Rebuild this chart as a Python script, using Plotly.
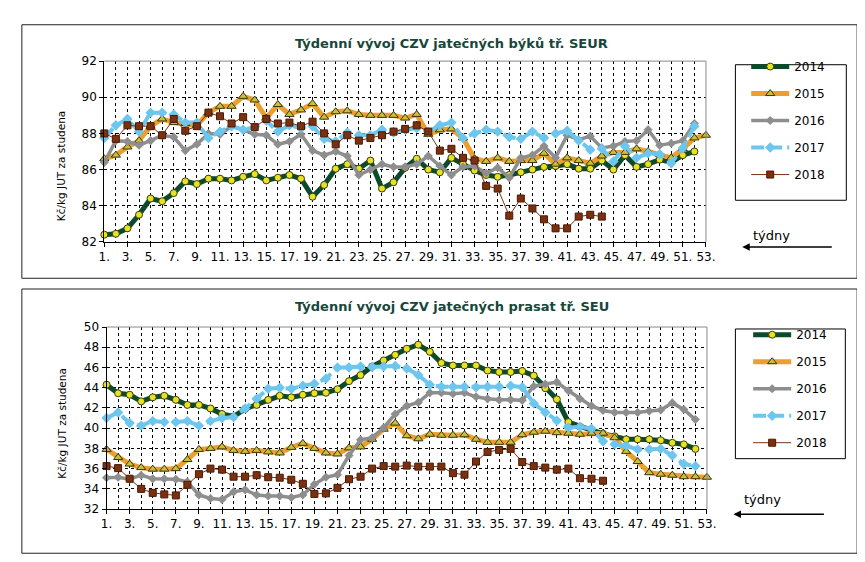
import plotly.graph_objects as go

W, H = 865, 562

weeks = list(range(1, 54))
tick_weeks = list(range(1, 54, 2))
tick_text = [f"{w}." for w in tick_weeks]
years = ["2014", "2015", "2016", "2017", "2018"]

title_bulls = "Týdenní vývoj CZV jatečných býků tř. SEUR"
title_pigs = "Týdenní vývoj CZV jatečných prasat tř. SEU"
y_title = "Kč/kg JUT za studena"
x_note = "týdny"

# ---- bulls (top chart) ----
bulls_2014 = [82.4, 82.45, 82.75, 83.5, 84.4, 84.25, 84.7, 85.35, 85.2, 85.5,
              85.5, 85.4, 85.6, 85.75, 85.4, 85.55, 85.7, 85.5, 84.5, 85.15,
              86.05, 86.3, 86.05, 86.5, 84.95, 85.3, 86.1, 86.6, 86.0, 85.85,
              86.65, 86.3, 85.95, 85.7, 85.6, 85.7, 85.85, 86.0, 86.15, 86.2,
              86.3, 86.05, 86.05, 86.5, 86.0, 86.8, 86.15, 86.3, 86.55, 86.4,
              86.8, 87.0]
bulls_2015 = [86.6, 86.8, 87.25, 87.6, 88.4, 88.8, 88.6, 88.55, 88.45, 89.15,
              89.5, 89.5, 90.05, 89.85, 88.85, 89.6, 89.05, 89.3, 89.65, 88.9,
              89.2, 89.25, 89.05, 89.0, 89.0, 89.0, 88.85, 89.05, 87.95, 88.2,
              88.25, 87.75, 86.6, 86.45, 86.65, 86.45, 86.5, 86.5, 86.9, 86.3,
              86.65, 86.5, 86.35, 86.75, 86.95, 86.95, 87.15, 87.0, 86.85, 86.65,
              87.15, 87.75, 87.9]
bulls_2016 = [86.4, 87.6, 87.55, 87.35, 87.6, 87.9, 87.8, 87.05, 87.4, 88.0,
              87.95, 88.4, 88.2, 87.95, 87.9, 87.4, 87.55, 87.95, 87.05, 86.8,
              87.0, 86.75, 85.7, 86.0, 86.3, 86.15, 86.15, 86.3, 86.75, 86.2,
              85.7, 86.15, 86.2, 85.8, 86.1, 85.55, 86.65, 86.8, 87.3, 86.65,
              87.9, 87.65, 87.85, 87.2, 87.3, 87.55, 87.6, 88.2, 87.35, 87.45,
              87.6, 88.55]
bulls_2017 = [87.75, 88.45, 88.8, 88.1, 89.15, 89.15, 89.05, 88.6, 88.6, 87.75,
              88.1, 88.4, 88.2, 88.35, 88.7, 88.1, 88.45, 88.3, 88.4, 87.7,
              87.55, 88.05, 87.9, 87.9, 88.2, 88.05, 88.2, 88.3, 88.1, 88.45,
              88.6, 87.75, 88.0, 88.2, 88.1, 87.8, 87.7, 88.1, 87.75, 88.0,
              88.15, 87.6, 87.1, 87.15, 86.45, 87.3, 86.65, 86.9, 86.85, 86.35,
              87.2, 88.4]
bulls_2018 = [88.0, 87.7, 88.45, 88.4, 88.4, 87.9, 88.8, 88.15, 88.4, 89.15,
              88.95, 88.55, 88.9, 88.35, 88.8, 88.55, 88.6, 88.4, 88.65, 88.0,
              87.4, 87.9, 87.6, 87.75, 87.9, 88.1, 88.25, 88.45, 88.1, 87.05,
              87.15, 86.65, 86.5, 85.1, 84.95, 83.45, 84.4, 83.85, 83.25, 82.75,
              82.75, 83.4, 83.5, 83.4]

# ---- pigs (bottom chart) ----
pigs_2014 = [44.3, 43.45, 43.3, 42.65, 43.05, 43.2, 42.8, 42.3, 42.3, 41.95,
             41.4, 41.15, 41.9, 42.3, 42.8, 43.2, 43.05, 43.3, 43.45, 43.5,
             43.85, 44.65, 45.25, 46.1, 46.7, 47.25, 47.85, 48.25, 47.55, 46.45,
             46.2, 46.2, 46.2, 45.7, 45.55, 45.55, 45.65, 45.2, 43.95, 42.85,
             40.6, 40.15, 39.8, 39.45, 39.2, 38.9, 38.9, 38.9, 38.8, 38.55,
             38.4, 37.95]
pigs_2015 = [37.9, 37.1, 36.45, 36.1, 35.95, 35.95, 36.0, 36.9, 37.9, 38.0,
             38.15, 37.8, 37.7, 37.8, 37.65, 37.55, 38.1, 38.5, 38.0, 37.55,
             37.45, 38.05, 38.15, 38.9, 39.9, 40.5, 39.25, 38.95, 39.4, 39.3,
             39.3, 39.35, 38.9, 38.6, 38.6, 38.6, 39.35, 39.6, 39.7, 39.55,
             39.5, 39.4, 39.5, 39.5, 39.05, 37.7, 36.7, 35.6, 35.45, 35.35,
             35.2, 35.2, 35.15]
pigs_2016 = [35.1, 35.15, 34.95, 35.35, 35.0, 35.0, 34.95, 34.7, 33.4, 33.05,
             32.95, 33.7, 33.9, 33.4, 33.3, 33.3, 33.15, 33.4, 34.45, 35.15,
             35.4, 37.3, 38.85, 39.05, 40.05, 41.4, 42.2, 42.55, 43.5, 43.5,
             43.4, 43.5, 43.1, 42.9, 42.8, 42.8, 42.75, 44.15, 44.35, 44.55,
             43.7, 42.9, 42.2, 41.75, 41.55, 41.55, 41.55, 41.7, 41.8, 42.5,
             41.85, 40.85]
pigs_2017 = [41.0, 41.55, 40.5, 40.25, 40.7, 40.6, 40.6, 40.7, 40.25, 40.7,
             41.0, 41.1, 41.95, 42.9, 43.9, 44.0, 43.9, 44.2, 44.4, 44.9,
             46.0, 46.0, 46.1, 46.05, 46.1, 46.15, 45.9, 45.25, 44.3, 44.1,
             44.1, 44.1, 44.05, 44.1, 44.1, 44.2, 44.05, 42.45, 41.55, 40.75,
             40.05, 40.15, 39.95, 38.7, 38.4, 38.25, 37.9, 37.9, 37.95, 37.3,
             36.45, 36.25]
pigs_2018 = [36.25, 36.05, 35.0, 34.0, 33.6, 33.45, 33.35, 34.4, 35.45, 36.0,
             35.9, 35.2, 35.2, 35.35, 35.15, 35.1, 34.9, 34.5, 33.5, 33.55,
             34.1, 34.95, 35.2, 36.0, 36.25, 36.2, 36.3, 36.2, 36.2, 36.2,
             35.55, 35.4, 36.7, 37.65, 37.85, 37.95, 36.65, 36.25, 36.1, 35.9,
             36.0, 35.05, 35.0, 34.8]

bulls = [bulls_2014, bulls_2015, bulls_2016, bulls_2017, bulls_2018]
pigs = [pigs_2014, pigs_2015, pigs_2016, pigs_2017, pigs_2018]

styles = [
    dict(line=dict(color="#0B4A2B", width=5),
         marker=dict(symbol="circle", size=7, color="#E6E322",
                     line=dict(color="#3C3C10", width=1))),
    dict(line=dict(color="#EA9F2E", width=5),
         marker=dict(symbol="triangle-up", size=8, color="#C9C03A",
                     line=dict(color="#3C3610", width=1))),
    dict(line=dict(color="#8E8E8E", width=3.5),
         marker=dict(symbol="diamond", size=7, color="#8E8E8E",
                     line=dict(color="#8E8E8E", width=0))),
    dict(line=dict(color="#6CC6EE", width=4, dash="13px,5px"),
         marker=dict(symbol="diamond", size=8, color="#6CC6EE",
                     line=dict(color="#6CC6EE", width=0))),
    dict(line=dict(color="#7A3213", width=1),
         marker=dict(symbol="square", size=7, color="#7B3010",
                     line=dict(color="#4A1A05", width=1))),
]

FONT = "DejaVu Sans"


def px_x(p):
    return p / W


def px_y(p):
    return 1 - p / H


fig = go.Figure()

for panel, data, xa, ya, lg in [("b", bulls, "x", "y", "legend"),
                                 ("p", pigs, "x2", "y2", "legend2")]:
    for yr, vals, st in zip(years, data, styles):
        fig.add_trace(go.Scatter(
            x=weeks[:len(vals)], y=vals, name=yr, mode="lines+markers",
            line=st["line"], marker=st["marker"], xaxis=xa, yaxis=ya,
            legend=lg, legendgroup=panel + yr, cliponaxis=False,
            hoverinfo="skip"))

grid = dict(showgrid=True, gridcolor="#000000", gridwidth=1, griddash="3px,3px")


def xax(domain, anchor):
    return dict(domain=domain, anchor=anchor, range=[1, 53], tickmode="array",
                tickvals=tick_weeks, ticktext=tick_text, tickangle=0,
                showline=True, linecolor="#000000", linewidth=1,
                ticks="outside", ticklen=4, tickcolor="#000000",
                tickfont=dict(family=FONT, size=12, color="#000000"),
                minor=dict(dtick=1, tick0=1, showgrid=True, gridcolor="#000000",
                           gridwidth=1, griddash="3px,3px", ticks=""),
                zeroline=False, fixedrange=True, **grid)


def yax(domain, anchor, rng):
    return dict(domain=domain, anchor=anchor, range=rng, dtick=2, tick0=rng[0],
                showline=True, linecolor="#000000", linewidth=1,
                ticks="outside", ticklen=4, tickcolor="#000000",
                tickfont=dict(family=FONT, size=12, color="#000000"),
                zeroline=False, fixedrange=True, **grid)


top_x = [92, 705]
top_y = [47.3, 232.7]
bot_x = [94.3, 706]
bot_y = [320, 506.7]

shapes = []
# outer frames
for (x0, y0, x1, y1) in [(8, 10, 859, 270), (8, 281, 859, 552)]:
    shapes.append(dict(type="rect", xref="paper", yref="paper",
                       x0=px_x(x0), x1=px_x(x1), y0=px_y(y1), y1=px_y(y0),
                       line=dict(color="#222222", width=1)))
# plot area borders (top/right grey)
for xs, ys in [(top_x, top_y), (bot_x, bot_y)]:
    shapes.append(dict(type="line", xref="paper", yref="paper",
                       x0=px_x(xs[0]), x1=px_x(xs[1]), y0=px_y(ys[0]), y1=px_y(ys[0]),
                       line=dict(color="#8A8A8A", width=1)))
    shapes.append(dict(type="line", xref="paper", yref="paper",
                       x0=px_x(xs[1]), x1=px_x(xs[1]), y0=px_y(ys[0]), y1=px_y(ys[1]),
                       line=dict(color="#8A8A8A", width=1)))
# legend boxes
for (x0, y0, x1, y1) in [(735, 51, 848, 190), (735, 322, 847, 455)]:
    shapes.append(dict(type="rect", xref="paper", yref="paper",
                       x0=px_x(x0), x1=px_x(x1), y0=px_y(y1), y1=px_y(y0),
                       line=dict(color="#000000", width=1)))

annotations = []
for txt, cx, cy in [(title_bulls, 446, 29), (title_pigs, 446, 299)]:
    annotations.append(dict(text=f"<b>{txt}</b>", x=px_x(cx), y=px_y(cy),
                            xref="paper", yref="paper", showarrow=False,
                            xanchor="center", yanchor="middle",
                            font=dict(family=FONT, size=13, color="#17473A")))
for cy in [155, 419]:
    annotations.append(dict(text=y_title, x=px_x(48), y=px_y(cy), xref="paper",
                            yref="paper", showarrow=False, textangle=-90,
                            xanchor="center", yanchor="middle",
                            font=dict(family=FONT, size=10.5, color="#000000")))
for tx, ty, ax0, ax1, ay in [(772, 226, 742, 833, 238), (763, 497, 733, 825, 512)]:
    annotations.append(dict(text=x_note, x=px_x(tx), y=px_y(ty), xref="paper",
                            yref="paper", showarrow=False, xanchor="center",
                            yanchor="middle",
                            font=dict(family=FONT, size=13, color="#000000")))
    annotations.append(dict(text="", x=px_x(ax0), y=px_y(ay), xref="paper",
                            yref="paper", showarrow=True, axref="pixel",
                            ayref="pixel", ax=ax1 - ax0, ay=0, arrowhead=2,
                            arrowsize=1, arrowwidth=1.5, arrowcolor="#000000"))

legend_common = dict(bgcolor="rgba(0,0,0,0)", borderwidth=0, itemwidth=38,
                     traceorder="grouped", tracegroupgap=8,
                     font=dict(family=FONT, size=12, color="#000000"),
                     xanchor="left", yanchor="top", itemclick=False,
                     itemdoubleclick=False)

fig.update_layout(
    width=W, height=H, margin=dict(l=0, r=0, t=0, b=0),
    paper_bgcolor="#FFFFFF", plot_bgcolor="#FFFFFF",
    showlegend=True,
    xaxis=xax([px_x(top_x[0]), px_x(top_x[1])], "y"),
    yaxis=yax([px_y(top_y[1]), px_y(top_y[0])], "x", [82, 92]),
    xaxis2=xax([px_x(bot_x[0]), px_x(bot_x[1])], "y2"),
    yaxis2=yax([px_y(bot_y[1]), px_y(bot_y[0])], "x2", [32, 50]),
    legend=dict(x=px_x(746), y=px_y(38), **legend_common),
    legend2=dict(x=px_x(748), y=px_y(313), **legend_common),
    shapes=shapes, annotations=annotations,
)

fig.write_html("out.html")
